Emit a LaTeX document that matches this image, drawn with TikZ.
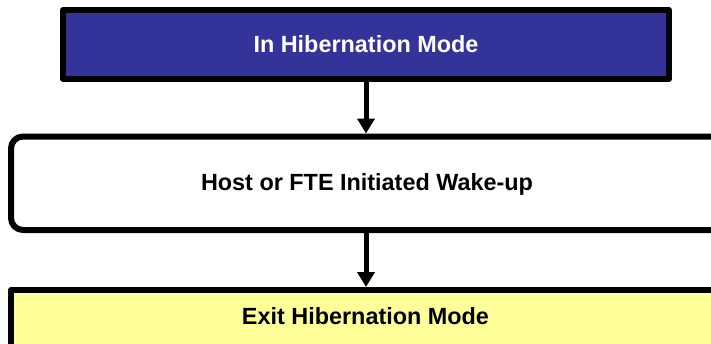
\documentclass[tikz,border=0pt]{standalone}
\usepackage{fontspec}
\setmainfont{Liberation Sans}
\usetikzlibrary{arrows.meta}
\definecolor{hibblue}{HTML}{333399}
\definecolor{exityellow}{HTML}{FFFF99}
\tikzset{
  boxstyle/.style={draw=black, line width=6pt, inner sep=0pt, line join=round},
  lbl/.style={font=\fontsize{23.4pt}{27pt}\selectfont\bfseries, inner sep=0pt},
  flow/.style={line width=5pt, -{Triangle[width=17pt,length=15pt]}}
}
\begin{document}
\begin{tikzpicture}[x=1pt,y=-1pt]
\useasboundingbox (0,0) rectangle (711,343);
\clip (0,0) rectangle (711,343);
\node[boxstyle, fill=hibblue, minimum width=606pt, minimum height=69pt] (top) at (366,44.5) {};
\node[lbl, text=white] (toptxt) at (366,44.5) {In Hibernation Mode};
\node[boxstyle, fill=white, rounded corners=12pt, minimum width=712pt, minimum height=93.5pt] (mid) at (367,183.25) {};
\node[lbl] (midtxt) at (367,184) {Host or FTE Initiated Wake-up};
\node[boxstyle, fill=exityellow, minimum width=709pt, minimum height=70pt] (bot) at (365.5,325) {};
\node[lbl] (bottxt) at (365.5,316.5) {Exit Hibernation Mode};
\draw[flow] (top.south -| 366,0) -- (mid.north -| 366,0);
\draw[flow] (mid.south -| 366,0) -- (bot.north -| 366,0);
\end{tikzpicture}
\end{document}
